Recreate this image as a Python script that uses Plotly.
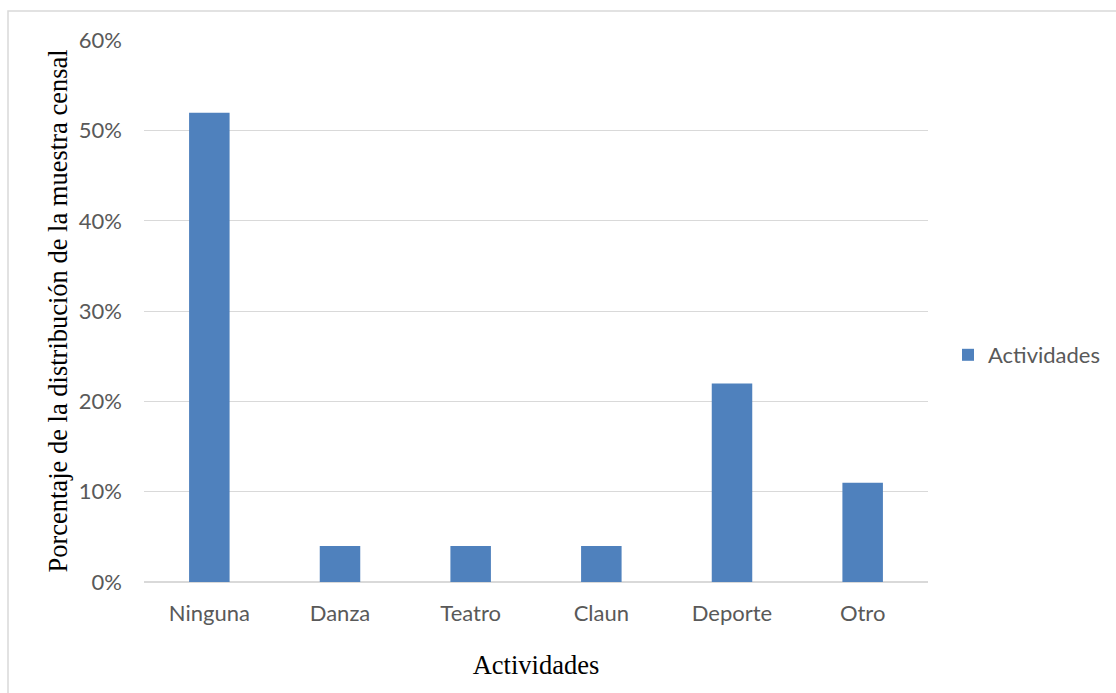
import plotly.graph_objects as go

categories = ["Ninguna", "Danza", "Teatro", "Claun", "Deporte", "Otro"]
values = [0.52, 0.04, 0.04, 0.04, 0.22, 0.11]
series_name = "Actividades"

W, H = 1116, 693
L, R, T, B = 144, 188, 40, 111
pw, ph = W - L - R, H - T - B

fig = go.Figure()
fig.add_trace(go.Bar(x=categories, y=values, name=series_name,
                     marker=dict(color="#4f81bd", line=dict(width=0)),
                     showlegend=True))

tickfont = dict(family="Lato, 'Open Sans', sans-serif", size=22, color="#595959")
titlefont = dict(family="Liberation Serif, serif", size=26.5, color="black")

fig.update_layout(
    width=W, height=H,
    margin=dict(l=L, r=R, t=T, b=B, pad=0, autoexpand=False),
    paper_bgcolor="white", plot_bgcolor="white",
    bargap=0.69,
    font=tickfont,
    showlegend=True,
    legend=dict(x=(948 - L) / pw, y=(582 - 355) / ph, xanchor="left", yanchor="middle",
                font=tickfont, itemwidth=30),
    xaxis=dict(showgrid=False, showline=False, ticks="", tickfont=tickfont,
               ticklabelstandoff=16,
               title=dict(text="Actividades", font=titlefont, standoff=30)),
    yaxis=dict(range=[0, 0.6005], dtick=0.1, tickformat=".0%", showgrid=True, gridcolor="#d9d9d9",
               gridwidth=1, zeroline=True, zerolinecolor="#d9d9d9", zerolinewidth=1.5,
               ticks="", ticklabelstandoff=21, tickfont=tickfont,
               title=dict(text="Porcentaje de la distribución de la muestra censal",
                          font=titlefont, standoff=3)),
    shapes=[dict(type="rect", xref="paper", yref="paper",
                 x0=(8 - L) / pw, x1=(1130 - L) / pw, y0=(582 - 700) / ph, y1=(582 - 11) / ph,
                 line=dict(color="#d9d9d9", width=1.5), fillcolor="rgba(0,0,0,0)", layer="below")],
)

fig.write_html("out.html", config={"displayModeBar": False},
               post_script="document.body.style.margin='0';document.body.style.padding='0';")
